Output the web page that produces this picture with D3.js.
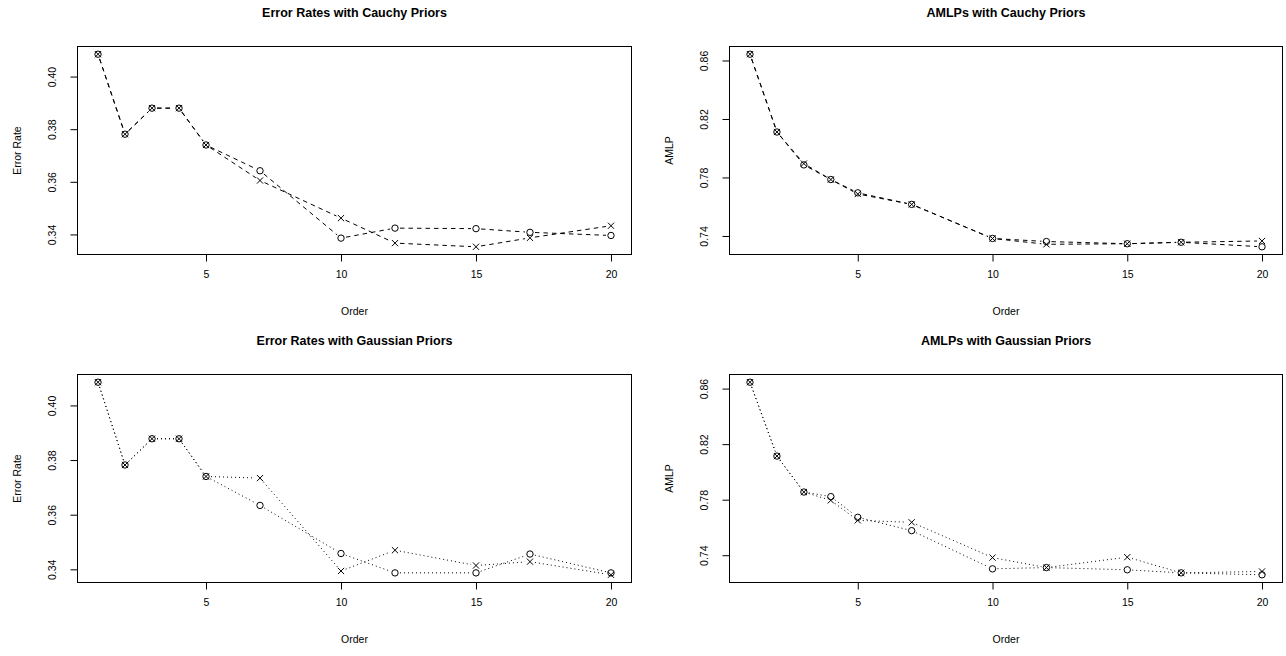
<!DOCTYPE html>
<html>
<head>
<meta charset="utf-8">
<script src="https://cdn.jsdelivr.net/npm/d3@7"></script>
<style>
  html, body { margin: 0; padding: 0; background: #fff; }
  svg { display: block; }
  text { font-family: "Liberation Sans", Arial, Helvetica, sans-serif; fill: #000; }
</style>
</head>
<body>
<svg id="chart" width="1286" height="656"></svg>
<script>
// ---- data ----
const orders = [1, 2, 3, 4, 5, 7, 10, 12, 15, 17, 20];

const cauchyErrCircle = [0.4085, 0.3781, 0.3880, 0.3880, 0.3740, 0.3642, 0.3386, 0.3424, 0.3422, 0.3408, 0.3396];
const cauchyErrCross  = [0.4085, 0.3781, 0.3880, 0.3880, 0.3740, 0.3605, 0.3462, 0.3367, 0.3353, 0.3387, 0.3433];

const cauchyAmlpCircle = [0.8643, 0.8111, 0.7886, 0.7786, 0.7695, 0.7616, 0.7383, 0.7362, 0.7347, 0.7357, 0.7326];
const cauchyAmlpCross  = [0.8643, 0.8111, 0.7895, 0.7786, 0.7687, 0.7616, 0.7383, 0.7343, 0.7347, 0.7357, 0.7366];

const gaussErrCircle = [0.4085, 0.3782, 0.3878, 0.3878, 0.3740, 0.3634, 0.3458, 0.3387, 0.3387, 0.3456, 0.3387];
const gaussErrCross  = [0.4085, 0.3782, 0.3878, 0.3878, 0.3740, 0.3734, 0.3394, 0.3470, 0.3414, 0.3428, 0.3380];

const gaussAmlpCircle = [0.8646, 0.8114, 0.7855, 0.7822, 0.7673, 0.7577, 0.7302, 0.7311, 0.7295, 0.7273, 0.7259];
const gaussAmlpCross  = [0.8646, 0.8114, 0.7855, 0.7795, 0.7651, 0.7637, 0.7383, 0.7311, 0.7386, 0.7273, 0.7283];

const xTicks = [5, 10, 15, 20];
const errTicks = [0.34, 0.36, 0.38, 0.40];
const amlpTicks = [0.74, 0.78, 0.82, 0.86];

const titles = [
  "Error Rates with Cauchy Priors",
  "AMLPs with Cauchy Priors",
  "Error Rates with Gaussian Priors",
  "AMLPs with Gaussian Priors"
];
const yTitles = ["Error Rate", "AMLP", "Error Rate", "AMLP"];
const xTitle = "Order";

// ---- layout ----
const svg = d3.select("#chart");
const panels = [
  { left: 77.5, right: 631.5, top: 46.5, bottom: 254.5, circle: cauchyErrCircle, cross: cauchyErrCross, ticks: errTicks, dash: "4.5,4", title: titles[0], ylab: yTitles[0] },
  { left: 729.5, right: 1282.5, top: 46.5, bottom: 254.5, circle: cauchyAmlpCircle, cross: cauchyAmlpCross, ticks: amlpTicks, dash: "4.5,4", title: titles[1], ylab: yTitles[1] },
  { left: 77.5, right: 631.5, top: 374.5, bottom: 582.5, circle: gaussErrCircle, cross: gaussErrCross, ticks: errTicks, dash: "1,3", title: titles[2], ylab: yTitles[2] },
  { left: 729.5, right: 1282.5, top: 374.5, bottom: 582.5, circle: gaussAmlpCircle, cross: gaussAmlpCross, ticks: amlpTicks, dash: "1,3", title: titles[3], ylab: yTitles[3] }
];

function rExtend(ext) {
  const d = (ext[1] - ext[0]) * 0.04;
  return [ext[0] - d, ext[1] + d];
}

const GAP = 5;

panels.forEach(p => {
  const g = svg.append("g");
  const x = d3.scaleLinear().domain(rExtend(d3.extent(orders))).range([p.left, p.right]);
  const allY = p.circle.concat(p.cross);
  const y = d3.scaleLinear().domain(rExtend(d3.extent(allY))).range([p.bottom, p.top]);

  // box
  g.append("rect")
    .attr("x", p.left).attr("y", p.top)
    .attr("width", p.right - p.left).attr("height", p.bottom - p.top)
    .attr("fill", "none").attr("stroke", "#000").attr("stroke-width", 1);

  // x axis
  const xa = g.append("g").attr("transform", `translate(0,${p.bottom})`)
    .call(d3.axisBottom(x).tickValues(xTicks).tickSize(7).tickPadding(5).tickFormat(d3.format("d")));
  xa.select(".domain").attr("d", `M${x(xTicks[0])},0H${x(xTicks[xTicks.length - 1])}`).attr("stroke", "#000");
  xa.selectAll(".tick line").attr("stroke", "#000");
  xa.selectAll(".tick text").attr("font-size", 10.5).attr("font-family", "Liberation Sans, Arial, sans-serif").attr("dy", "1.05em");

  // y axis
  const ya = g.append("g").attr("transform", `translate(${p.left},0)`)
    .call(d3.axisLeft(y).tickValues(p.ticks).tickSize(7).tickFormat(d3.format(".2f")));
  ya.select(".domain").attr("d", `M0,${y(p.ticks[0])}V${y(p.ticks[p.ticks.length - 1])}`).attr("stroke", "#000");
  ya.selectAll(".tick line").attr("stroke", "#000");
  ya.selectAll(".tick text")
    .attr("font-size", 10.5).attr("font-family", "Liberation Sans, Arial, sans-serif")
    .attr("x", null).attr("dy", null)
    .attr("text-anchor", "middle")
    .attr("transform", "translate(-22,0) rotate(-90)")
    .attr("y", 0);

  // titles
  g.append("text")
    .attr("x", (p.left + p.right) / 2).attr("y", p.top - 30)
    .attr("text-anchor", "middle").attr("font-size", 12.5).attr("font-weight", "bold")
    .text(p.title);
  g.append("text")
    .attr("x", (p.left + p.right) / 2).attr("y", p.bottom + 60)
    .attr("text-anchor", "middle").attr("font-size", 10.5)
    .text(xTitle);
  g.append("text")
    .attr("transform", `translate(${p.left - 57},${(p.top + p.bottom) / 2}) rotate(-90)`)
    .attr("text-anchor", "middle").attr("font-size", 10.5)
    .text(p.ylab);

  // series (type = "b": lines with gaps around points)
  [p.circle, p.cross].forEach((vals, si) => {
    const pts = orders.map((o, i) => [x(o), y(vals[i])]);
    for (let i = 0; i < pts.length - 1; i++) {
      const [x0, y0] = pts[i], [x1, y1] = pts[i + 1];
      const L = Math.hypot(x1 - x0, y1 - y0);
      if (L <= 2 * GAP) continue;
      const ux = (x1 - x0) / L, uy = (y1 - y0) / L;
      g.append("line")
        .attr("x1", x0 + ux * GAP).attr("y1", y0 + uy * GAP)
        .attr("x2", x1 - ux * GAP).attr("y2", y1 - uy * GAP)
        .attr("stroke", "#000").attr("stroke-width", 1)
        .attr("stroke-dasharray", p.dash);
    }
    if (si === 0) {
      g.selectAll(null).data(pts).enter().append("circle")
        .attr("cx", d => d[0]).attr("cy", d => d[1]).attr("r", 3.2)
        .attr("fill", "none").attr("stroke", "#000").attr("stroke-width", 1);
    } else {
      const s = 3.1;
      g.selectAll(null).data(pts).enter().append("path")
        .attr("d", d => `M${d[0] - s},${d[1] - s}L${d[0] + s},${d[1] + s}M${d[0] - s},${d[1] + s}L${d[0] + s},${d[1] - s}`)
        .attr("fill", "none").attr("stroke", "#000").attr("stroke-width", 1);
    }
  });
});
</script>
</body>
</html>
